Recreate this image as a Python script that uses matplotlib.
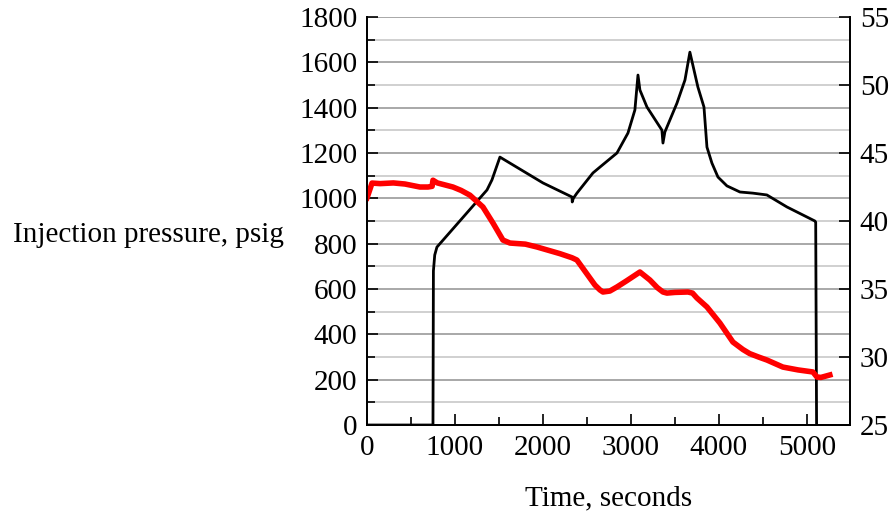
import matplotlib.pyplot as plt
from matplotlib.ticker import MultipleLocator

plt.rcParams['font.family'] = ['Liberation Serif', 'DejaVu Serif']

# Injection pressure (left axis), psig
press_time = [0, 700, 750, 755, 770, 795, 1364, 1420, 1511,
              2000, 2330, 2333, 2345, 2386, 2568, 2648, 2841, 2966,
              3045, 3080, 3102, 3182, 3352, 3364, 3386, 3523, 3614,
              3670, 3761, 3830, 3864, 3920, 3989, 4091, 4239, 4386,
              4545, 4773, 5091, 5100, 5110]
press_psig = [0, 0, 0, 680, 750, 785, 1037, 1081, 1182,
              1068, 1006, 984, 1000, 1023, 1112, 1138, 1200, 1288,
              1390, 1544, 1478, 1403, 1301, 1244, 1293, 1420, 1522,
              1645, 1491, 1403, 1226, 1156, 1094, 1055, 1028, 1023,
              1015, 962, 900, 895, 0]

# Temperature (right axis)
temp_time = [0, 11, 57, 150, 300, 432, 602, 693, 740, 750, 800, 977, 1070,
             1170, 1318, 1432, 1545, 1625, 1800, 1932, 2193, 2330, 2386,
             2443, 2591, 2648, 2682, 2760, 2841, 2950, 3102, 3216, 3300,
             3364, 3409, 3500, 3648, 3700, 3750, 3864, 4011, 4159, 4273,
             4350, 4450, 4545, 4727, 4900, 5068, 5114, 5160, 5261]
temp_vals = [41.7, 41.9, 42.79, 42.75, 42.8, 42.72, 42.5, 42.5, 42.55, 43.0,
             42.8, 42.5, 42.25, 41.9, 41.03, 39.85, 38.6, 38.38, 38.3, 38.09,
             37.6, 37.3, 37.13, 36.62, 35.29, 34.93, 34.78, 34.85, 35.15,
             35.6, 36.25, 35.66, 35.1, 34.78, 34.7, 34.75, 34.78, 34.7,
             34.34, 33.68, 32.5, 31.1, 30.55, 30.25, 30.0, 29.78, 29.26,
             29.05, 28.9, 28.53, 28.5, 28.68]

fig = plt.figure(figsize=(8.94, 5.19), dpi=100)
ax = fig.add_axes([0.4105, 0.1811, 0.5403, 0.7861])
ax2 = ax.twinx()

ax.plot(press_time, press_psig, color='black', linewidth=2.0, zorder=3)
ax2.plot(temp_time, temp_vals, color='red', linewidth=4.0, zorder=2)

ax.set_xlim(0, 5490)
ax.set_ylim(0, 1800)
ax2.set_ylim(25, 55)

ax.xaxis.set_major_locator(MultipleLocator(1000))
ax.xaxis.set_minor_locator(MultipleLocator(500))
ax.yaxis.set_major_locator(MultipleLocator(200))
ax.yaxis.set_minor_locator(MultipleLocator(100))
ax2.yaxis.set_major_locator(MultipleLocator(5))

ax.grid(which='major', axis='y', color='#999999', linewidth=1.2)
ax.grid(which='minor', axis='y', color='#c8c8c8', linewidth=1.2)
ax.set_axisbelow(True)

for a in (ax, ax2):
    a.spines['top'].set_visible(False)
    for s in ('left', 'right', 'bottom'):
        a.spines[s].set_linewidth(1.3)

ax.tick_params(which='major', direction='in', length=8, width=1.2,
               labelsize=21, pad=7)
ax.tick_params(which='minor', direction='in', length=6, width=1.2)
ax2.tick_params(which='major', direction='in', length=8, width=1.2,
                labelsize=21, pad=7)

ax.set_xlabel('Time, seconds', fontsize=21, labelpad=18)
fig.text(0.014, 0.547, 'Injection pressure, psig', fontsize=21,
         ha='left', va='center')

fig.savefig('out.png', dpi=100)
